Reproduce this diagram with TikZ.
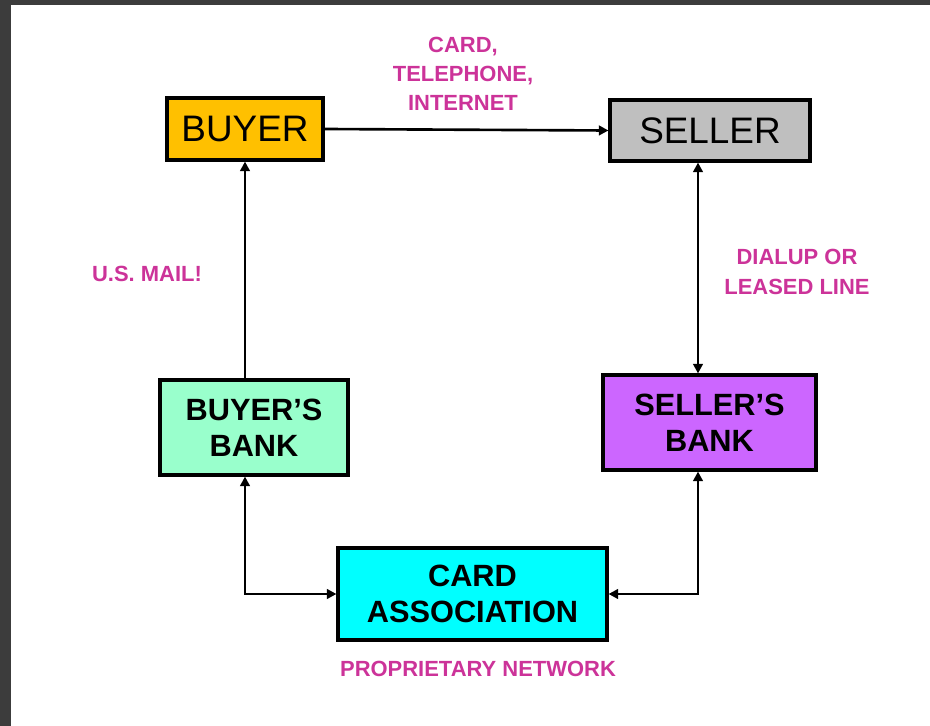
\documentclass[tikz,border=0pt]{standalone}
\usepackage{fontspec}
\setmainfont{Liberation Sans}
\usetikzlibrary{arrows.meta, positioning}

\definecolor{buyergold}{RGB}{255,192,0}
\definecolor{sellergray}{RGB}{191,191,191}
\definecolor{bbankgreen}{RGB}{153,255,204}
\definecolor{sbankviolet}{RGB}{204,102,255}
\definecolor{cardcyan}{RGB}{0,255,255}
\definecolor{lblmagenta}{RGB}{204,51,153}
\definecolor{framegray}{RGB}{60,60,60}

\begin{document}
\begin{tikzpicture}[x=0.02cm, y=-0.02cm,
		box/.style={draw, line width=1.8pt, rectangle, inner sep=0pt, align=center},
		plain/.style={font=\fontsize{21}{25}\selectfont},
		heavy/.style={font=\fontsize{17.5}{20.5}\selectfont\bfseries},
		lbl/.style={text=lblmagenta, align=center, font=\fontsize{12.5}{16.5}\selectfont\bfseries},
		link/.style={line width=1.5pt, -{Triangle[length=5.5pt, width=5.5pt]}},
		both/.style={line width=1.5pt, {Triangle[length=5.5pt, width=5.5pt]}-{Triangle[length=5.5pt, width=5.5pt]}}]

		% frame
		\useasboundingbox (0,0) rectangle (930,726);
		\fill[framegray] (0,0) rectangle (930,726);
		\fill[white] (11,5) rectangle (930,726);

		% Parties
		\begin{scope}
			\node (buyer) at (245,129) [box, plain, fill=buyergold, minimum width=3.12cm, minimum height=1.24cm] {BUYER};
			\node (seller) at (710,130.5) [box, plain, fill=sellergray, minimum width=4cm, minimum height=1.22cm] {SELLER};
		\end{scope}

		% Banks
		\begin{scope}
			\node (bbank) at (254,427.5) [box, heavy, fill=bbankgreen, minimum width=3.76cm, minimum height=1.9cm] {BUYER’S\\BANK};
			\node (sbank) at (709.5,422.5) [box, heavy, fill=sbankviolet, minimum width=4.26cm, minimum height=1.9cm] {SELLER’S\\BANK};
			\node (card) at (472.5,594) [box, heavy, fill=cardcyan, minimum width=5.38cm, minimum height=1.84cm] {CARD\\ASSOCIATION};
		\end{scope}

		% Channels
		\begin{scope}
			\node (phone) at (463,74) [lbl] {CARD,\\TELEPHONE,\\INTERNET};
			\node (mail) at (147,274) [lbl] {U.S. MAIL!};
			\node (dialup) at (797,272) [lbl, font=\fontsize{12.5}{17}\selectfont\bfseries] {DIALUP OR\\LEASED LINE};
			\node (network) at (478,669) [lbl] {PROPRIETARY NETWORK};
		\end{scope}

		% Connections
		\coordinate (mailtop) at (buyer.south);
		\coordinate (linetop) at ([xshift=-0.24cm]seller.south);
		\draw[link] (bbank.north -| mailtop) -- (mailtop);
		\draw[link] (buyer.east) -- (seller.west);
		\draw[both] (linetop) -- (sbank.north -| linetop);
		\draw[both] (bbank.south -| mailtop) |- (card.west);
		\draw[both] (sbank.south -| linetop) |- (card.east);

	\end{tikzpicture}
\end{document}
